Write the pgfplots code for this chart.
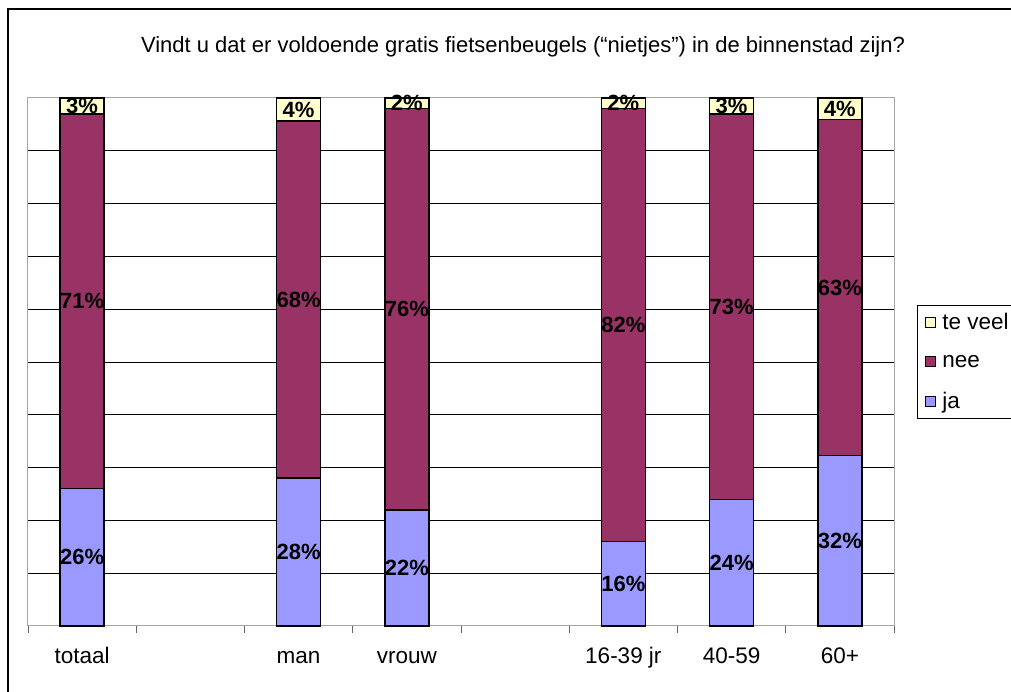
\documentclass[border=0pt]{standalone}
\usepackage{pgfplots}
\pgfplotsset{compat=1.18}
\usepackage{pgfplotstable}
\usepackage{fontspec}
\setmainfont{Liberation Sans}
\definecolor{cja}{HTML}{9999FF}
\definecolor{cnee}{HTML}{993366}
\definecolor{cteveel}{HTML}{FFFFCC}
\pgfplotstableread{
x ja nee teveel
0 26 71 3
2 28 67.6 4.4
3 22 76 2
5 16 82 2
6 24 73 3
7 32.3 63.6 4.1
}\data
\begin{document}
\begin{tikzpicture}
\path[use as bounding box] (0pt,0pt) rectangle (1011pt,692pt);
\draw[black, line width=1.5pt] (8pt,-30pt) -- (8pt,683pt) -- (1040pt,683pt);
\node[font=\fontsize{22}{26}\selectfont, anchor=center] at (523pt,645pt) {Vindt u dat er voldoende gratis fietsenbeugels (“nietjes”) in de binnenstad zijn?};
\begin{axis}[
  at={(28pt,66pt)}, anchor=south west,
  scale only axis, width=866pt, height=528pt,
  ybar stacked, bar width=44pt,
  xmin=-0.5, xmax=7.5, ymin=0, ymax=100,
  xtick={0,2,3,5,6,7},
  xticklabels={totaal,man,vrouw,16-39 jr,40-59,60+},
  minor xtick={-0.5,0.5,...,7.5},
  major tick length=0pt, minor tick length=7pt,
  tick align=outside, xtick pos=bottom, ytick pos=left,
  minor tick style={gray!80!black, line width=0.9pt},
  ytick={10,20,...,90}, yticklabels={},
  ymajorgrids, grid style={black, line width=0.9pt},
  axis line style={gray!70, line width=1pt},
  tick label style={font=\fontsize{22.5}{26}\selectfont},
  xticklabel style={anchor=base, yshift=-38pt},
  legend style={at={(1.0266,0.608)}, anchor=north west, draw=black, line width=0.6pt,
     font=\fontsize{22.5}{26}\selectfont, row sep=20pt, column sep=4pt,
     inner xsep=8pt, inner ysep=6pt,
     cells={anchor=west}},
  reverse legend,
  legend image code/.code={\draw[#1, line width=1pt] (0pt,-5pt) rectangle (10pt,5pt);},
  every axis plot/.append style={draw=black, line width=1.5pt},
  clip=false,
]
\addplot[fill=cja] table[x=x, y=ja] {\data};
\addplot[fill=cnee] table[x=x, y=nee] {\data};
\addplot[fill=cteveel] table[x=x, y=teveel] {\data};
\legend{ja,nee,te veel}
\end{axis}
\begin{axis}[
  at={(28pt,66pt)}, anchor=south west,
  scale only axis, width=866pt, height=528pt,
  xmin=-0.5, xmax=7.5, ymin=0, ymax=100,
  hide axis, clip=false,
]
\addplot[only marks, mark=none, nodes near coords, point meta=explicit symbolic,
  nodes near coords style={anchor=center, font=\fontsize{22}{24}\selectfont\bfseries, inner sep=0pt}]
coordinates {
(0,13) [26\%] (0,61.5) [71\%] (0,98.5) [3\%]
(2,14) [28\%] (2,61.8) [68\%] (2,97.8) [4\%]
(3,11) [22\%] (3,60) [76\%] (3,99) [2\%]
(5,8) [16\%] (5,57) [82\%] (5,99) [2\%]
(6,12) [24\%] (6,60.5) [73\%] (6,98.5) [3\%]
(7,16.15) [32\%] (7,64.1) [63\%] (7,97.95) [4\%]
};
\end{axis}
\end{tikzpicture}
\end{document}
